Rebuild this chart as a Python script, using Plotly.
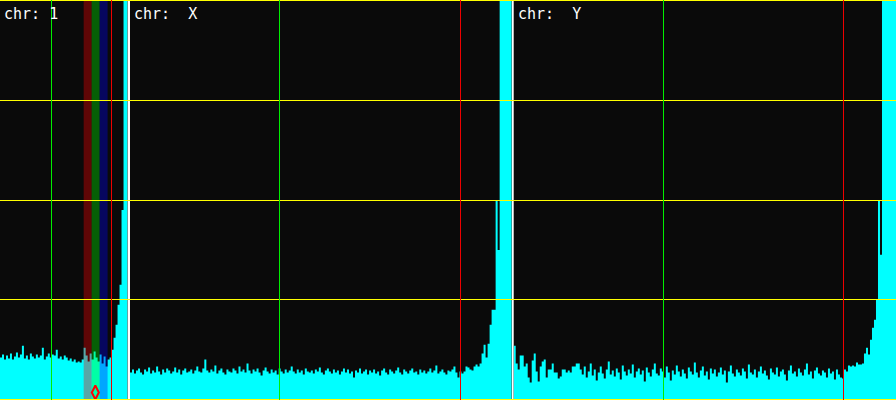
import plotly.graph_objects as go

# ---------------- data ----------------
labels = ["chr: 1", "chr:\u00a0\u00a0X", "chr:\u00a0\u00a0Y"]

chr1_values = [
    0.42, 0.45, 0.40, 0.44, 0.41, 0.46, 0.40, 0.43, 0.47, 0.42,
    0.45, 0.54, 0.41, 0.44, 0.40, 0.46, 0.43, 0.41, 0.45, 0.42,
    0.44, 0.52, 0.40, 0.43, 0.46, 0.42, 0.45, 0.44, 0.50, 0.41,
    0.43, 0.40, 0.44, 0.42, 0.39, 0.41, 0.38, 0.40, 0.37, 0.38,
    0.37, 0.40, 0.52, 0.44, 0.38, 0.46, 0.40, 0.48, 0.42, 0.38,
    0.45, 0.36, 0.43, 0.33, 0.40, 0.42, 0.50, 0.62, 0.75, 0.95,
    1.15, 1.90, 8.00, 8.00,
]

chrX_values = [
    0.27, 0.30, 0.26, 0.29, 0.31, 0.27, 0.25, 0.30, 0.28, 0.32,
    0.26, 0.29, 0.27, 0.33, 0.28, 0.25, 0.30, 0.27, 0.31, 0.29,
    0.26, 0.28, 0.32, 0.27, 0.30, 0.25, 0.29, 0.31, 0.27, 0.28,
    0.30, 0.26, 0.29, 0.33, 0.28, 0.27, 0.31, 0.40, 0.29, 0.27,
    0.30, 0.28, 0.34, 0.26, 0.29, 0.31, 0.27, 0.25, 0.30, 0.28,
    0.27, 0.31, 0.29, 0.26, 0.33, 0.28, 0.30, 0.27, 0.36, 0.29,
    0.26, 0.30, 0.28, 0.31, 0.27, 0.24, 0.29, 0.32, 0.28, 0.26,
    0.30, 0.27, 0.29, 0.25, 0.31, 0.28, 0.26, 0.30, 0.27, 0.29,
    0.33, 0.28, 0.26, 0.30, 0.27, 0.29, 0.25, 0.31, 0.28, 0.27,
    0.29, 0.26, 0.30, 0.28, 0.32, 0.27, 0.25, 0.29, 0.31, 0.28,
    0.26, 0.30, 0.27, 0.29, 0.25, 0.28, 0.31, 0.27, 0.30, 0.26,
    0.28, 0.22, 0.29, 0.27, 0.31, 0.26, 0.28, 0.30, 0.25, 0.29,
    0.27, 0.30, 0.26, 0.28, 0.24, 0.29, 0.31, 0.27, 0.25, 0.30,
    0.28, 0.26, 0.29, 0.32, 0.27, 0.25, 0.30, 0.28, 0.26, 0.29,
    0.31, 0.27, 0.28, 0.25, 0.30, 0.27, 0.29, 0.26, 0.28, 0.31,
    0.27, 0.29, 0.34, 0.26, 0.28, 0.30, 0.27, 0.25, 0.29, 0.28,
    0.30, 0.33, 0.27, 0.22, 0.28,
    0.26, 0.28, 0.33, 0.32, 0.30, 0.29, 0.33, 0.35, 0.33, 0.36,
    0.46, 0.55, 0.42, 0.56, 0.75, 0.90, 0.90, 2.00, 1.50,
    8.00, 8.00, 8.00, 8.00, 8.00, 8.00,
]

chrY_values = [
    0.54, 0.36, 0.30, 0.44, 0.44, 0.33, 0.36, 0.22, 0.17, 0.39,
    0.46, 0.28, 0.18, 0.33, 0.38, 0.40, 0.22, 0.30, 0.30, 0.36,
    0.27, 0.27, 0.21, 0.23, 0.30, 0.30, 0.27, 0.29, 0.27, 0.33,
    0.33, 0.36, 0.36,
    0.30, 0.25, 0.33, 0.22, 0.28, 0.36, 0.24, 0.30, 0.19, 0.27,
    0.33, 0.26, 0.21, 0.30, 0.38, 0.25, 0.29, 0.23, 0.31, 0.27,
    0.20, 0.34, 0.28, 0.24, 0.30, 0.26, 0.35, 0.22, 0.28, 0.31,
    0.25, 0.29, 0.18, 0.32, 0.27, 0.23, 0.30, 0.36, 0.26, 0.24,
    0.31, 0.28, 0.22, 0.33, 0.27, 0.19, 0.29, 0.25, 0.34, 0.28,
    0.23, 0.30, 0.26, 0.21, 0.32, 0.28, 0.25, 0.37, 0.27, 0.22,
    0.29, 0.33, 0.24, 0.28, 0.20, 0.31, 0.26, 0.30, 0.23, 0.27,
    0.32, 0.25, 0.29, 0.17, 0.28, 0.34, 0.26, 0.23, 0.30, 0.27,
    0.24, 0.31, 0.28, 0.21, 0.35, 0.27, 0.25, 0.30, 0.22, 0.28,
    0.33, 0.26, 0.29, 0.24, 0.20, 0.31, 0.27, 0.25, 0.32, 0.23,
    0.28, 0.30, 0.25, 0.19, 0.29, 0.34, 0.26, 0.28, 0.23, 0.31,
    0.27, 0.24, 0.30, 0.36, 0.25, 0.28, 0.21, 0.29, 0.32, 0.26,
    0.24, 0.29, 0.27, 0.22, 0.31, 0.26, 0.28, 0.20, 0.30, 0.25,
    0.22, 0.21, 0.30, 0.28, 0.34, 0.33, 0.34, 0.33, 0.37, 0.35,
    0.35, 0.36, 0.46, 0.52, 0.45, 0.60, 0.72, 0.80, 1.00, 2.00,
    1.45,
    8.00, 8.00, 8.00, 8.00, 8.00, 8.00, 8.00,
]

green_marks = [25.75, 74.55, 74.75]
red_marks = [55.75, 164.3, 164.75]

band_edges = [42, 46, 50, 54]
band_colors = ["rgba(255,0,0,0.35)", "rgba(0,255,0,0.35)", "rgba(0,0,255,0.35)"]

point_x = [47.85]
point_y = [0.07]

y_grid = [0, 1, 2, 3, 4]
y_range = [-0.005, 4.005]

# ---------------- figure ----------------
W, H = 896, 400
domains = [[0, 127.5 / W], [130 / W, 511.7 / W], [513.7 / W, 1]]
series = [chr1_values, chrX_values, chrY_values]

fig = go.Figure()
shapes = []
annotations = []

for i, vals in enumerate(series):
    sfx = "" if i == 0 else str(i + 1)
    xa, ya = "x" + sfx, "y" + sfx
    n = len(vals)
    fig.add_trace(go.Scatter(
        x=list(range(n + 1)), y=vals + [vals[-1]],
        mode="lines", line=dict(width=0, shape="hv"),
        fill="tozeroy", fillcolor="#00ffff",
        xaxis=xa, yaxis=ya, hoverinfo="skip", showlegend=False,
    ))
    fig.layout["xaxis" + sfx] = dict(
        domain=domains[i], range=[0, n], showgrid=False, zeroline=False,
        showticklabels=False, ticks="", showline=False, fixedrange=True,
        anchor=ya,
    )
    fig.layout["yaxis" + sfx] = dict(
        range=y_range, showgrid=False, zeroline=False, showticklabels=False,
        ticks="", showline=False, fixedrange=True, anchor=xa,
    )
    # vertical marker lines
    shapes.append(dict(type="line", xref=xa, yref="paper", x0=green_marks[i],
                       x1=green_marks[i], y0=0, y1=1, layer="above",
                       line=dict(color="#00ee00", width=1)))
    shapes.append(dict(type="line", xref=xa, yref="paper", x0=red_marks[i],
                       x1=red_marks[i], y0=0, y1=1, layer="above",
                       line=dict(color="#ee0000", width=1)))
    annotations.append(dict(
        text=labels[i], xref="paper", yref="paper", x=domains[i][0], y=1,
        xanchor="left", yanchor="top", xshift=2, yshift=-3, showarrow=False,
        font=dict(family="DejaVu Sans Mono", size=15, color="white"),
    ))

# coloured bands over chr 1
for j in range(len(band_colors)):
    x0, x1 = band_edges[j], band_edges[j + 1]
    fig.add_trace(go.Scatter(
        x=[x0, x1, x1, x0, x0],
        y=[y_range[0] - 1, y_range[0] - 1, y_range[1] + 1, y_range[1] + 1, y_range[0] - 1],
        mode="lines", line=dict(width=0), fill="toself",
        fillcolor=band_colors[j], xaxis="x", yaxis="y",
        hoverinfo="skip", showlegend=False,
    ))

fig.add_trace(go.Scatter(
    x=point_x, y=point_y, mode="markers",
    marker=dict(symbol="diamond-tall-open", size=10, color="#ff0000",
                line=dict(width=2, color="#ff0000")),
    xaxis="x", yaxis="y", hoverinfo="skip", showlegend=False,
    cliponaxis=False,
))

# yellow horizontal lines
for g in y_grid:
    shapes.insert(0, dict(type="line", xref="paper", yref="y", x0=0, x1=1,
                          y0=g, y1=g, layer="above",
                          line=dict(color="#ffff00", width=1)))

fig.update_layout(
    width=W, height=H, margin=dict(l=0, r=0, t=0, b=0),
    paper_bgcolor="#ffffff", plot_bgcolor="#0a0a0a",
    shapes=shapes, annotations=annotations, showlegend=False,
)

fig.write_html(
    "out.html",
    config={"displayModeBar": False},
    post_script=(
        "document.body.style.margin='0';document.body.style.padding='0';"
        "document.body.style.overflow='hidden';"
        "var st=document.createElement('style');"
        "st.textContent='.shapelayer path{shape-rendering:crispEdges !important}';"
        "document.head.appendChild(st);"
    ),
)
